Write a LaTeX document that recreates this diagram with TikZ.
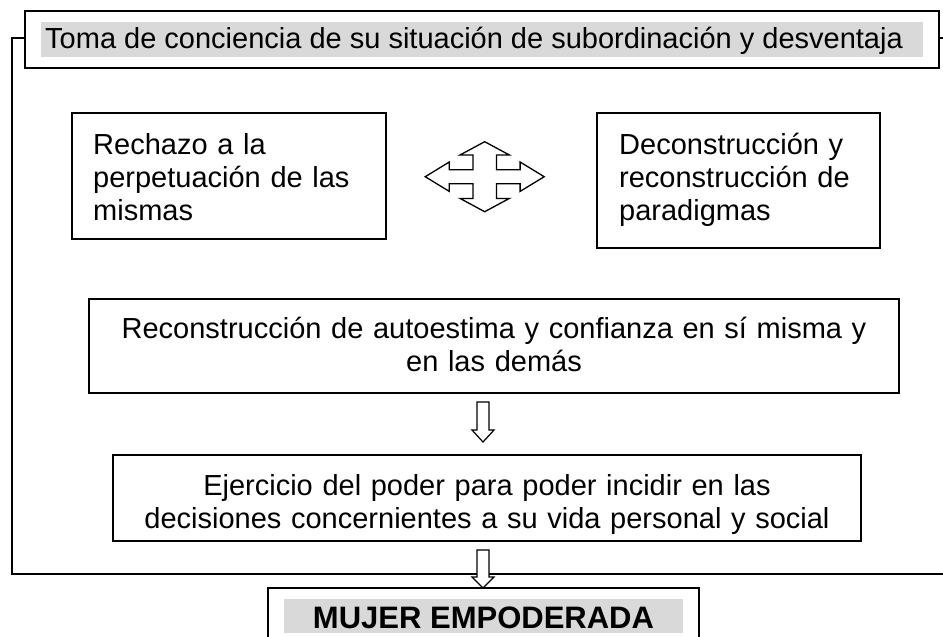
\documentclass[tikz,border=0pt]{standalone}
\usepackage{fontspec}
\setmainfont{Liberation Sans}
\definecolor{hlgray}{HTML}{D9D9D9}
\begin{document}
\begin{tikzpicture}[x=1pt,y=-1pt,
  box/.style={draw, line width=1.4pt, fill=white, inner sep=0pt},
  hl/.style={fill=hlgray, draw=none, inner sep=0pt},
  txt/.style={inner sep=0pt, font=\fontsize{29}{33}\selectfont},
  blockarrow/.style={draw, line width=1.2pt, fill=white, line join=miter}]
\useasboundingbox (0,0) rectangle (943,637);
\clip (0,0) rectangle (943,637);

% outer frame
\node[box, minimum width=958pt, minimum height=536pt] (frame) at (491,306) {};

% title
\node[box, minimum width=914pt, minimum height=57pt] (title) at (482,39.5) {};
\node[hl, minimum width=882pt, minimum height=35pt] (titlehl) at (482,39.5) {};
\node[txt, anchor=base west] (titletxt) at (45,48) {Toma de conciencia de su situación de subordinación y desventaja};

% box 1
\node[box, minimum width=314pt, minimum height=126pt] (b1) at (229,176) {};
\node[txt, anchor=base west, text width=280pt, align=left] (t1) at (93,154)
  {Rechazo a la\\perpetuación de las\\mismas};

% box 2
\node[box, minimum width=283pt, minimum height=135pt] (b2) at (738.5,180.5) {};
\node[txt, anchor=base west, text width=255pt, align=left] (t2) at (619,154)
  {Deconstrucción y\\reconstrucción de\\paradigmas};

% cross arrow
\begin{scope}[shift={(484.7,176.7)}]
\draw[blockarrow, line width=1.3pt] (0,-35) -- (24.7,-21.7) -- (11.7,-21.7) -- (11.7,-7) -- (35.4,-7) -- (35.4,-14.7) -- (59.5,0) -- (35.4,14.7) -- (35.4,7) -- (11.7,7) -- (11.7,21.7) -- (24.7,21.7) -- (0,35) -- (-24.7,21.7) -- (-11.7,21.7) -- (-11.7,7) -- (-35.4,7) -- (-35.4,14.7) -- (-59.5,0) -- (-35.4,-14.7) -- (-35.4,-7) -- (-11.7,-7) -- (-11.7,-21.7) -- (-24.7,-21.7) -- cycle;
\end{scope}

% box 3
\node[box, minimum width=810pt, minimum height=94pt] (b3) at (494,346) {};
\node[txt, anchor=base, text width=790pt, align=center] (t3) at (494,338)
  {Reconstrucción de autoestima y confianza en sí misma y\\en las demás};

% box 4
\node[box, minimum width=748pt, minimum height=86pt] (b4) at (487,498) {};
\node[txt, anchor=base, text width=740pt, align=center] (t4) at (487,495)
  {Ejercicio del poder para poder incidir en las\\decisiones concernientes a su vida personal y social};

% final box
\node[box, minimum width=431pt, minimum height=62pt] (b5) at (483.5,619) {};
\node[hl, minimum width=399pt, minimum height=34pt] (b5hl) at (483.5,616) {};
\node[inner sep=0pt, font=\fontsize{31}{35}\selectfont\bfseries, anchor=base] (t5) at (483.5,628) {MUJER EMPODERADA};

% block arrows
\coordinate (a1) at (483,402);
\draw[blockarrow] (a1) ++(-6,0) -- ++(12,0) -- ++(0,28) -- ++(5,0) -- ++(-11,12) -- ++(-11,-12) -- ++(5,0) -- cycle;
\coordinate (a2) at (483,550);
\draw[blockarrow] (a2) ++(-6,0) -- ++(12,0) -- ++(0,27) -- ++(5,0) -- ++(-11,11) -- ++(-11,-11) -- ++(5,0) -- cycle;
\end{tikzpicture}
\end{document}
